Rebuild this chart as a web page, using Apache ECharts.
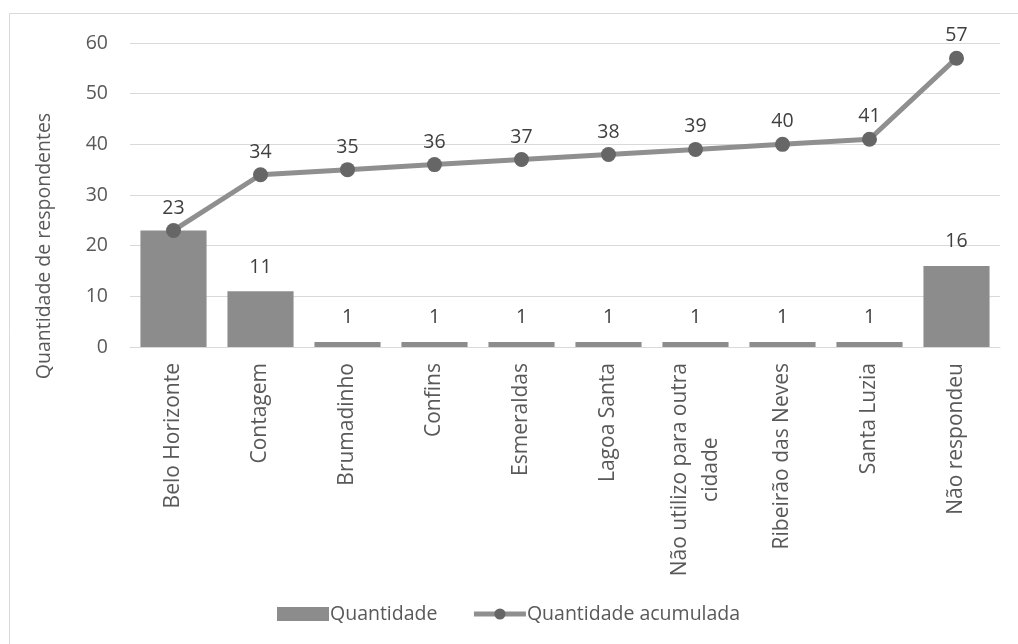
<!DOCTYPE html>
<html>
<head>
<meta charset="utf-8">
<script src="https://cdn.jsdelivr.net/npm/echarts@6/dist/echarts.min.js"></script>
<style>
  html, body { margin: 0; padding: 0; background: #ffffff; }
  #chart { width: 1018px; height: 644px; }
</style>
</head>
<body>
<div id="chart"></div>
<script>
// Cities named by respondents, with counts and running total
const categories = [
  'Belo Horizonte', 'Contagem', 'Brumadinho', 'Confins', 'Esmeraldas',
  'Lagoa Santa', 'Não utilizo para outra\ncidade', 'Ribeirão das Neves',
  'Santa Luzia', 'Não respondeu'
];
const quantidade = [23, 11, 1, 1, 1, 1, 1, 1, 1, 16];
const acumulada = [23, 34, 35, 36, 37, 38, 39, 40, 41, 57];
const yTicks = { min: 0, max: 60, interval: 10 };

const FONT = '"Open Sans", "DejaVu Sans", sans-serif';
const FS = 19.5;
const FS_CAT = 21;

const chart = echarts.init(document.getElementById('chart'), null, { renderer: 'canvas' });

// The first bar shares its value and spot with the first cumulative point,
// so only the line's label is shown there.
const barData = quantidade.map(function (v, i) {
  return i === 0 && v === acumulada[0] ? { value: v, label: { show: false } } : v;
});

chart.setOption({
  backgroundColor: '#ffffff',
  animation: false,
  textStyle: { fontFamily: FONT },
  graphic: [
    {
      type: 'rect',
      shape: { x: 9.5, y: 13.5, width: 1200, height: 800 },
      style: { fill: 'none', stroke: '#d9d9d9', lineWidth: 1 },
      silent: true
    },
    {
      type: 'text',
      x: 44, y: 246,
      rotation: Math.PI / 2,
      style: {
        text: 'Quantidade de respondentes',
        font: FS + 'px ' + FONT,
        fill: '#595959',
        align: 'center',
        verticalAlign: 'middle'
      },
      silent: true
    }
  ],
  grid: { left: 130, right: 18, top: 43, bottom: 297 },
  legend: {
    left: 272,
    top: 599,
    itemWidth: 52,
    itemHeight: 14,
    itemGap: 34,
    textStyle: { fontSize: FS, color: '#595959', fontFamily: FONT, padding: [0, 0, 0, -4] },
    data: [
      { name: 'Quantidade', icon: 'rect' },
      { name: 'Quantidade acumulada', lineStyle: { width: 5, color: '#8f8f8f' } }
    ]
  },
  xAxis: {
    type: 'category',
    data: categories,
    axisLine: { show: true, lineStyle: { color: '#d9d9d9', width: 1 } },
    axisTick: { show: false },
    axisLabel: {
      rotate: 90,
      interval: 0,
      margin: 16,
      fontSize: FS_CAT,
      color: '#595959',
      fontFamily: FONT,
      lineHeight: 31,
      formatter: function (v) {
        if (v.indexOf('\n') >= 0) {
          return v.split('\n').map(function (s) { return '{c|' + s + '}'; }).join('\n');
        }
        return v;
      },
      rich: {
        c: { align: 'center', fontSize: FS_CAT, color: '#595959', fontFamily: FONT, lineHeight: 31 }
      }
    }
  },
  yAxis: {
    type: 'value',
    min: yTicks.min,
    max: yTicks.max,
    interval: yTicks.interval,
    axisLine: { show: false },
    axisTick: { show: false },
    axisLabel: { fontSize: FS, color: '#595959', margin: 22, fontFamily: FONT },
    splitLine: { lineStyle: { color: '#d9d9d9', width: 1 } }
  },
  series: [
    {
      name: 'Quantidade',
      type: 'bar',
      data: barData,
      barCategoryGap: '24%',
      itemStyle: { color: '#8c8c8c' },
      label: {
        show: true,
        position: 'top',
        distance: 14,
        fontSize: FS,
        color: '#404040',
        fontFamily: FONT
      },
      z: 2
    },
    {
      name: 'Quantidade acumulada',
      type: 'line',
      data: acumulada,
      symbol: 'circle',
      symbolSize: 15,
      lineStyle: { color: '#8f8f8f', width: 5 },
      itemStyle: { color: '#666666' },
      label: {
        show: true,
        position: 'top',
        distance: 5,
        fontSize: FS,
        color: '#404040',
        fontFamily: FONT
      },
      z: 3
    }
  ]
});
</script>
</body>
</html>
